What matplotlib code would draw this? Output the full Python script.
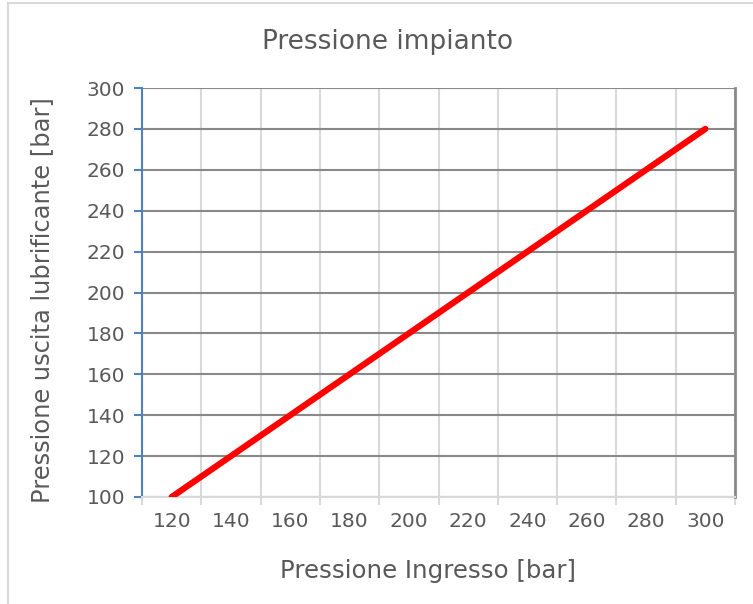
import matplotlib
matplotlib.use("Agg")
import matplotlib.pyplot as plt
from matplotlib.lines import Line2D

categories = [120, 140, 160, 180, 200, 220, 240, 260, 280, 300]
values = [100, 120, 140, 160, 180, 200, 220, 240, 260, 280]
y_ticks = [100, 120, 140, 160, 180, 200, 220, 240, 260, 280, 300]

plt.rcParams['font.family'] = ['DejaVu Sans']
txt = '#595959'

fig = plt.figure(figsize=(7.53, 6.04), dpi=100)
ax = fig.add_axes([142/753, 1-497/604, (735-142)/753, (497-88)/604])

n = len(categories)
xs = list(range(n))
ax.set_xlim(-0.5, n - 0.5)
ax.set_ylim(100, 300)

# vertical gridlines at category boundaries
for b in range(n + 1):
    xb = b - 0.5
    ax.axvline(xb, color='#d9d9d9', lw=1.5, zorder=1)
# horizontal gridlines
for yt in y_ticks:
    ax.axhline(yt, color='#898989', lw=1.5, zorder=1)

ax.plot(xs, values, color='#ff0000', lw=4.5, solid_capstyle='round', zorder=3)

ax.set_xticks(xs)
ax.set_xticklabels([str(c) for c in categories])
ax.set_yticks(y_ticks)
ax.set_yticklabels([str(v) for v in y_ticks])
ax.tick_params(axis='x', length=0, pad=11, labelsize=14.5, labelcolor=txt)
ax.tick_params(axis='y', length=6, width=1.5, color='#4f81bd', pad=6, labelsize=14.5, labelcolor=txt)

# minor ticks at category boundaries on x axis
ax.set_xticks([b - 0.5 for b in range(n + 1)], minor=True)
ax.tick_params(axis='x', which='minor', length=6, width=1.5, color='#d9d9d9')

ax.spines['top'].set_visible(False)
ax.spines['right'].set_color('#898989')
ax.spines['right'].set_linewidth(2)
ax.spines['left'].set_color('#4f81bd')
ax.spines['left'].set_linewidth(1.5)
ax.spines['bottom'].set_color('#d9d9d9')
ax.spines['bottom'].set_linewidth(1.5)

fig.text(388/753, 1-42/604, 'Pressione impianto', ha='center', va='center', fontsize=19, color=txt)
fig.text(428/753, 1-571/604, 'Pressione Ingresso [bar]', ha='center', va='center', fontsize=17.6, color=txt)
fig.text(42/753, 1-300/604, 'Pressione uscita lubrificante [bar]', ha='center', va='center',
         rotation=90, fontsize=17.4, color=txt)

# chart border (left and top visible)
fig.add_artist(Line2D([8/753, 8/753], [0, 1-3/604], color='#d9d9d9', lw=1.5, transform=fig.transFigure))
fig.add_artist(Line2D([8/753, 1], [1-3/604, 1-3/604], color='#d9d9d9', lw=1.5, transform=fig.transFigure))

fig.savefig('out.png', dpi=100)
